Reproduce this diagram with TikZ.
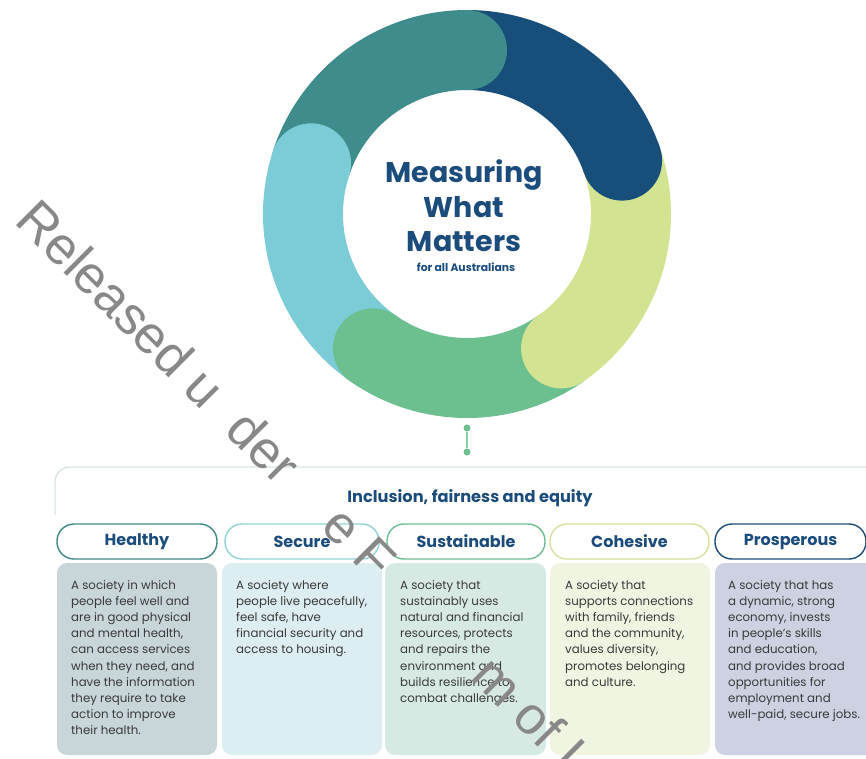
\documentclass[tikz,border=0pt]{standalone}
\usepackage{fontspec}
\setmainfont{Poppins}
\newfontfamily\wmfont{Liberation Sans}
\definecolor{cteal}{HTML}{3E8C8B}
\definecolor{cnavy}{HTML}{184E7A}
\definecolor{clime}{HTML}{D2E391}
\definecolor{cgreen}{HTML}{6CC08F}
\definecolor{ccyan}{HTML}{7CCCD8}
\definecolor{ctext}{HTML}{1B4C7C}
\definecolor{cbody}{HTML}{3A3A3A}
\definecolor{cpanel}{HTML}{D6E5E2}
\definecolor{bhealthy}{HTML}{C8D6DA}
\definecolor{bsecure}{HTML}{DCEEF1}
\definecolor{bsustain}{HTML}{D6EAE3}
\definecolor{bcohesive}{HTML}{F0F5E2}
\definecolor{bprosper}{HTML}{CDD1E2}
\definecolor{phealthy}{HTML}{3E8A86}
\definecolor{psecure}{HTML}{8FD3D6}
\definecolor{psustain}{HTML}{6CC08F}
\definecolor{pcohesive}{HTML}{D5E29A}
\definecolor{pprosper}{HTML}{1B4F7A}
\definecolor{cwm}{HTML}{888888}
\tikzset{
  x=1pt, y=1pt,
  seg/.style={line width=80pt},
  capdot/.style={circle, inner sep=0pt, minimum size=80pt},
  pill/.style={draw, line width=1.4pt, rounded corners=17pt, minimum height=35pt,
    inner sep=0pt, font=\fontsize{16}{18}\selectfont\bfseries, text=ctext},
  descbox/.style={rounded corners=10pt, minimum height=192pt, inner sep=0pt},
  desc/.style={anchor=north west, align=left, inner sep=0pt, text=cbody,
    font=\fontsize{11.8}{16.2}\selectfont},
  linkdot/.style={circle, fill=cgreen, inner sep=0pt, minimum size=7pt},
  wm/.style={text=cwm, font=\wmfont\fontsize{53}{54}\selectfont, inner sep=0pt}
}
\begin{document}
\begin{tikzpicture}
\useasboundingbox (0,0) rectangle (866,-758);
\fill[white] (0,0) rectangle (866,-758);
% ring
\coordinate (C) at (467,-214);
\draw[seg, cteal]  ([shift={(162:164)}]C) arc[start angle=162, end angle=90, radius=164];
\draw[seg, cnavy]  ([shift={(90:164)}]C) arc[start angle=90, end angle=19, radius=164];
\draw[seg, clime]  ([shift={(19:164)}]C) arc[start angle=19, end angle=-55, radius=164];
\draw[seg, cgreen] ([shift={(-55:164)}]C) arc[start angle=-55, end angle=-125, radius=164];
\draw[seg, ccyan]  ([shift={(-125:164)}]C) arc[start angle=-125, end angle=-198, radius=164];
\node[capdot, fill=cteal]  (capteal)  at ([shift={(90:164)}]C) {};
\node[capdot, fill=cnavy]  (capnavy)  at ([shift={(19:164)}]C) {};
\node[capdot, fill=clime]  (caplime)  at ([shift={(-55:164)}]C) {};
\node[capdot, fill=cgreen] (capgreen) at ([shift={(-125:164)}]C) {};
\node[capdot, fill=ccyan]  (capcyan)  at ([shift={(162:164)}]C) {};
% centre text
\node[text=ctext, align=center, inner sep=0pt, font=\fontsize{28.5}{34.5}\selectfont\bfseries] (mwm) at (464,-206) {Measuring\\What\\Matters};
\node[text=ctext, inner sep=0pt, font=\fontsize{10.8}{12}\selectfont\bfseries] (sub) at (466,-267) {for all Australians};
% connector
\node[linkdot] (d1) at (467,-428) {};
\node[linkdot] (d2) at (467,-452) {};
\draw[cgreen!80!white, line width=2.2pt] (d1) -- (d2);
% panel outline
\coordinate (pl) at (55,-515);
\coordinate (pr) at (870,-467);
\draw[cpanel, line width=1.3pt] (pl) -- (55,-482) arc[start angle=180, end angle=90, radius=15] -- (pr);
\node[text=ctext, inner sep=0pt, font=\fontsize{16.2}{18}\selectfont\bfseries] (title) at (470,-498) {Inclusion, fairness and equity};
% pills
\node[pill, draw=phealthy, minimum width=160pt] (ph) at (137,-541.5) {Healthy};
\node[pill, draw=psecure, minimum width=154pt] (ps) at (302,-541.5) {Secure};
\node[pill, draw=psustain, minimum width=158pt] (pu) at (466,-541.5) {Sustainable};
\node[pill, draw=pcohesive, minimum width=159pt] (pc) at (629.5,-541.5) {Cohesive};
\node[pill, draw=pprosper, minimum width=151pt] (pp) at (790.5,-541.5) {Prosperous};
% description boxes
\node[descbox, fill=bhealthy, minimum width=160pt] (bh) at (137,-659) {};
\node[descbox, fill=bsecure, minimum width=160pt] (bs) at (302,-659) {};
\node[descbox, fill=bsustain, minimum width=161pt] (bu) at (465.5,-659) {};
\node[descbox, fill=bcohesive, minimum width=160pt] (bc) at (630,-659) {};
\node[descbox, fill=bprosper, minimum width=170pt] (bp) at (800,-659) {};
\node[desc] (th) at (71,-580) {A society in which\\people feel well and\\are in good physical\\and mental health,\\can access services\\when they need, and\\have the information\\they require to take\\action to improve\\their health.};
\node[desc] (ts) at (236,-580) {A society where\\people live peacefully,\\feel safe, have\\financial security and\\access to housing.};
\node[desc] (tu) at (400,-580) {A society that\\sustainably uses\\natural and financial\\resources, protects\\and repairs the\\environment and\\builds resilience to\\combat challenges.};
\node[desc] (tc) at (565,-580) {A society that\\supports connections\\with family, friends\\and the community,\\values diversity,\\promotes belonging\\and culture.};
\node[desc] (tp) at (728,-580) {A society that has\\a dynamic, strong\\economy, invests\\in people’s skills\\and education,\\and provides broad\\opportunities for\\employment and\\well-paid, secure jobs.};
% watermark
\node[wm, anchor=base west, rotate=-45] (wmk) at (13,-222) {Released u\phantom{n}der \phantom{th}e F\phantom{reedo}m of I};
\end{tikzpicture}
\end{document}
